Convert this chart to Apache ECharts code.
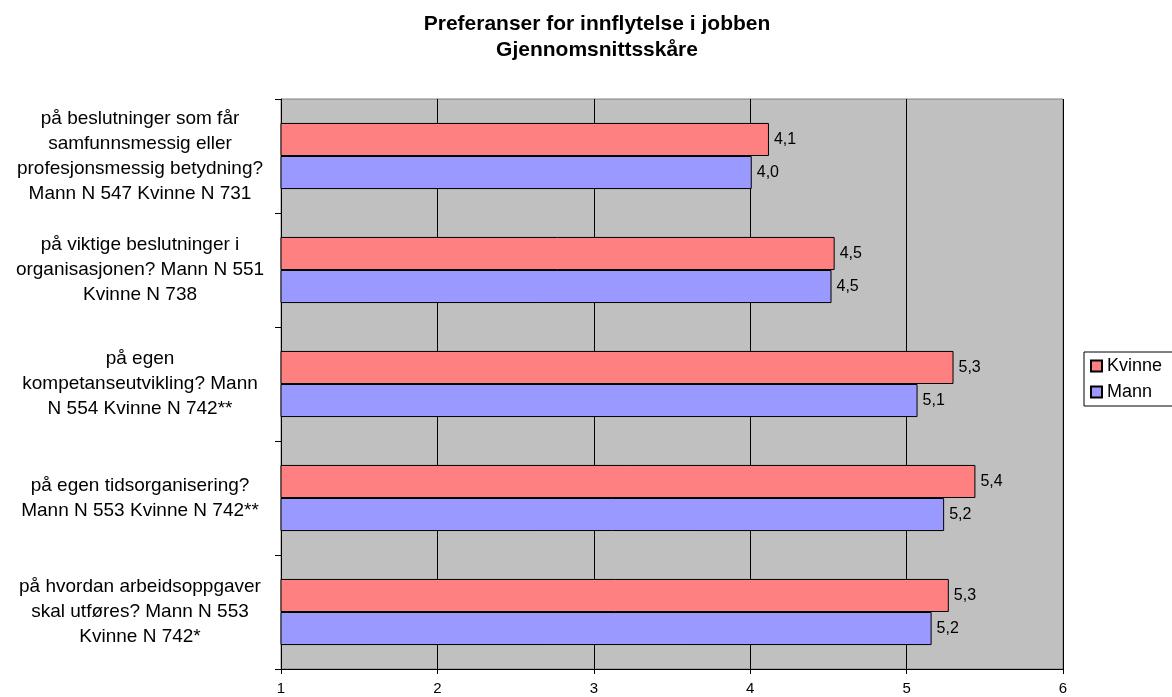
<!DOCTYPE html>
<html>
<head>
<meta charset="utf-8">
<title>Preferanser for innflytelse i jobben</title>
<script src="https://cdn.jsdelivr.net/npm/echarts@6/dist/echarts.min.js"></script>
<style>
  html, body { margin: 0; padding: 0; background: #ffffff; }
  #chart { width: 1172px; height: 697px; }
</style>
</head>
<body>
<div id="chart"></div>
<script>
// Questions, listed top to bottom
const categories = [
  'på beslutninger som får\nsamfunnsmessig eller\nprofesjonsmessig betydning?\nMann N 547 Kvinne N 731',
  'på viktige beslutninger i\norganisasjonen? Mann N 551\nKvinne N 738',
  'på egen\nkompetanseutvikling? Mann\nN 554 Kvinne N 742**',
  'på egen tidsorganisering?\nMann N 553 Kvinne N 742**',
  'på hvordan arbeidsoppgaver\nskal utføres? Mann N 553\nKvinne N 742*'
];
const seriesNames = ['Kvinne', 'Mann'];
const kvinne = [4.12, 4.54, 5.30, 5.44, 5.27];
const mann = [4.01, 4.52, 5.07, 5.24, 5.16];
const xTicks = [1, 2, 3, 4, 5, 6];

const FONT = '"Liberation Sans", Arial, Helvetica, sans-serif';
const fmt = v => v.toFixed(1).replace('.', ',');

const chart = echarts.init(document.getElementById('chart'), null, { renderer: 'canvas' });

const labelCfg = {
  show: true,
  position: 'right',
  distance: 5,
  color: '#000',
  fontFamily: FONT,
  fontSize: 16,
  formatter: p => fmt(p.value)
};

chart.setOption({
  animation: false,
  backgroundColor: '#ffffff',
  textStyle: { fontFamily: FONT },
  title: {
    text: 'Preferanser for innflytelse i jobben\nGjennomsnittsskåre',
    left: 592,
    top: 6,
    textAlign: 'center',
    textStyle: {
      fontFamily: FONT,
      fontSize: 21,
      fontWeight: 'bold',
      color: '#000',
      lineHeight: 26
    }
  },
  legend: {
    data: seriesNames,
    orient: 'vertical',
    left: 1084,
    top: 352,
    itemWidth: 11,
    itemHeight: 11,
    itemGap: 8,
    padding: [5, 20, 5, 6],
    icon: 'rect',
    backgroundColor: '#ffffff',
    borderColor: '#000',
    borderWidth: 1,
    borderRadius: 0,
    textStyle: { fontFamily: FONT, fontSize: 18, color: '#000', padding: [0, 0, 0, 0] }
  },
  grid: {
    left: 281,
    right: 109,
    top: 99,
    bottom: 28,
    show: true,
    backgroundColor: '#c0c0c0',
    borderColor: '#808080',
    borderWidth: 1,
    containLabel: false
  },
  xAxis: {
    type: 'value',
    min: xTicks[0],
    max: xTicks[xTicks.length - 1],
    interval: 1,
    axisLine: { show: true, onZero: false, lineStyle: { color: '#000', width: 1 } },
    axisTick: { show: true, length: 5, lineStyle: { color: '#000' } },
    axisLabel: { color: '#000', fontFamily: FONT, fontSize: 15, margin: 12 },
    splitLine: { show: true, lineStyle: { color: '#000', width: 1 } }
  },
  yAxis: {
    type: 'category',
    data: categories,
    inverse: true,
    axisLine: { show: true, lineStyle: { color: '#000', width: 1 } },
    axisTick: { show: true, length: 6, inside: false, lineStyle: { color: '#000' } },
    axisLabel: {
      color: '#000',
      fontFamily: FONT,
      fontSize: 19,
      lineHeight: 25,
      align: 'center',
      margin: 141
    },
    splitLine: { show: false }
  },
  series: [
    {
      name: seriesNames[0],
      type: 'bar',
      data: kvinne,
      barGap: '0%',
      barCategoryGap: '42%',
      itemStyle: { color: '#ff8080', borderColor: '#000', borderWidth: 1 },
      label: labelCfg
    },
    {
      name: seriesNames[1],
      type: 'bar',
      data: mann,
      barGap: '0%',
      barCategoryGap: '42%',
      itemStyle: { color: '#9999ff', borderColor: '#000', borderWidth: 1 },
      label: labelCfg
    }
  ]
});
</script>
</body>
</html>
